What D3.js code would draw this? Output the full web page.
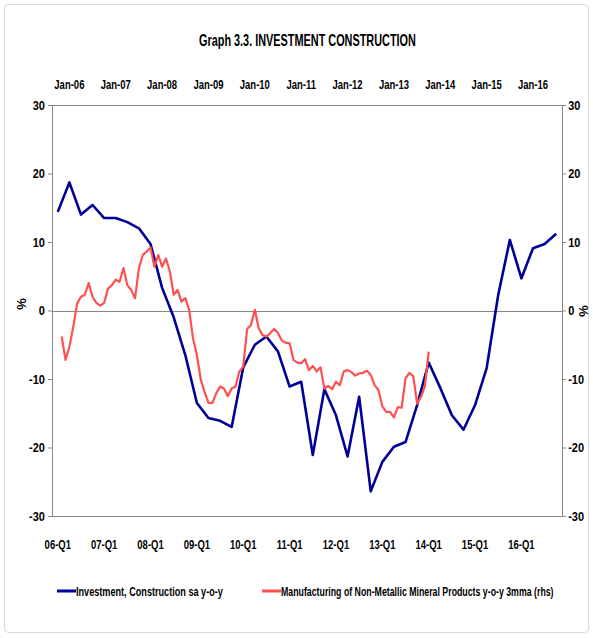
<!DOCTYPE html>
<html>
<head>
<meta charset="utf-8">
<script src="https://cdn.jsdelivr.net/npm/d3@7"></script>
<style>
body { margin: 0; background: #fff; }
text { font-family: "Liberation Sans", Arial, sans-serif; font-weight: bold; }
</style>
</head>
<body>
<div id="chart"></div>
<script>
// quarterly categories (bottom axis)
var quarters = ["06-Q1","06-Q2","06-Q3","06-Q4","07-Q1","07-Q2","07-Q3","07-Q4",
	"08-Q1","08-Q2","08-Q3","08-Q4","09-Q1","09-Q2","09-Q3","09-Q4",
	"10-Q1","10-Q2","10-Q3","10-Q4","11-Q1","11-Q2","11-Q3","11-Q4",
	"12-Q1","12-Q2","12-Q3","12-Q4","13-Q1","13-Q2","13-Q3","13-Q4",
	"14-Q1","14-Q2","14-Q3","14-Q4","15-Q1","15-Q2","15-Q3","15-Q4",
	"16-Q1","16-Q2","16-Q3","16-Q4"];
var quarterTicks = ["06-Q1","07-Q1","08-Q1","09-Q1","10-Q1","11-Q1","12-Q1","13-Q1","14-Q1","15-Q1","16-Q1"];

// Investment, Construction sa y-o-y (quarterly, lhs)
var investment = [14.4, 18.7, 14.0, 15.4, 13.5, 13.5, 12.9, 12.0,
	9.7, 3.3, -1.0, -6.5, -13.5, -15.7, -16.1, -17.0,
	-8.3, -5.0, -3.8, -6.0, -11.1, -10.4, -21.1, -11.5,
	-15.3, -21.3, -12.6, -26.4, -22.1, -19.9, -19.2, -13.8,
	-7.6, -11.3, -15.3, -17.4, -13.8, -8.4, 2.3, 10.3,
	4.7, 9.1, 9.7, 11.2];

// monthly categories (top axis): Sep-05 .. Aug-16
var monthStart = new Date(2005, 8, 1);
var monthEnd = new Date(2016, 8, 1);
var monthTicks = ["Jan-06","Jan-07","Jan-08","Jan-09","Jan-10","Jan-11","Jan-12","Jan-13","Jan-14","Jan-15","Jan-16"];

// Manufacturing of Non-Metallic Mineral Products y-o-y 3mma (monthly, rhs), Nov-05 .. Oct-13
var mineralStart = new Date(2005, 10, 1);
var mineral = [-3.8, -7.2, -5.3, -2.4, 1.0, 2.0, 2.3, 4.0, 2.0, 1.1, 0.7, 1.1,
	3.2, 3.7, 4.5, 4.2, 6.2, 3.7, 3.0, 1.8, 6.2, 8.1, 8.6, 9.2,
	6.4, 8.1, 6.4, 7.6, 5.7, 2.3, 3.0, 1.3, 1.8, 0.1, -4.1, -6.5,
	-10.1, -11.9, -13.5, -13.5, -12.1, -11.1, -11.4, -12.5, -11.4, -11.1, -8.9, -8.2,
	-2.7, -2.1, 0.1, -2.6, -3.6, -3.8, -3.3, -2.7, -3.3, -4.4, -4.7, -4.8,
	-7.2, -7.6, -7.7, -7.1, -8.7, -8.1, -8.9, -8.3, -11.4, -11.0, -11.5, -10.4,
	-10.9, -8.9, -8.7, -9.0, -9.5, -9.2, -9.1, -8.8, -9.4, -10.9, -11.6, -14.0,
	-14.8, -14.8, -15.6, -14.1, -14.2, -9.9, -9.1, -9.6, -13.6, -12.6, -11.1, -6.0];

var yTicks = [-30, -20, -10, 0, 10, 20, 30];

var seriesNames = ["Investment, Construction sa y-o-y",
	"Manufacturing of Non-Metallic Mineral Products y-o-y 3mma (rhs)"];

// squeeze a text horizontally so it spans exactly len pixels from x
function fitText(sel, x, y, len) {
	var natural = sel.node().getComputedTextLength();
	sel.attr("x", 0).attr("y", 0)
		.attr("transform", "translate(" + x + "," + y + ") scale(" + (len / natural) + ",1)");
}

function drawChart() {
	try {
		var width = 593, height = 638;
		var left = 52, right = 562, top = 105, bottom = 516;
		var axisColor = "#868686";
		var blue = "#000099", red = "#ff5050";

		var svg = d3.select("#chart").append("svg")
			.attr("width", width).attr("height", height);

		svg.append("rect").attr("x", 4.5).attr("y", 4.5)
			.attr("width", 584).attr("height", 628).attr("rx", 4)
			.attr("fill", "#fff").attr("stroke", "#d9d9d9");

		var title = svg.append("text").attr("font-size", 17)
			.text("Graph 3.3. INVESTMENT CONSTRUCTION");
		fitText(title, 199, 46, 217);

		var months = d3.timeMonth.range(monthStart, monthEnd);
		var fmtMonth = d3.timeFormat("%b-%y");

		var xQ = d3.scaleBand().domain(quarters).range([left, right]);
		var xM = d3.scaleBand().domain(months.map(fmtMonth)).range([left, right]);
		var y = d3.scaleLinear().domain([-30, 30]).range([bottom, top]);
		var y2 = d3.scaleLinear().domain([-30, 30]).range([bottom, top]);

		// top axis line (box edge)
		svg.append("line").attr("x1", left).attr("x2", right)
			.attr("y1", top + 0.5).attr("y2", top + 0.5)
			.attr("stroke", axisColor);

		// zero line
		svg.append("line").attr("x1", left).attr("x2", right)
			.attr("y1", Math.round(y(0)) + 0.5).attr("y2", Math.round(y(0)) + 0.5)
			.attr("stroke", axisColor);

		var gLeft = svg.append("g").attr("transform", "translate(" + left + ",0)")
			.call(d3.axisLeft(y).tickValues(yTicks).tickSize(4).tickSizeOuter(0)
				.tickFormat(function(d) { return String(d); }));
		var gRight = svg.append("g").attr("transform", "translate(" + right + ",0)")
			.call(d3.axisRight(y2).tickValues(yTicks).tickSize(4).tickSizeOuter(0)
				.tickFormat(function(d) { return String(d); }));
		var gBottom = svg.append("g").attr("transform", "translate(0," + bottom + ")")
			.call(d3.axisBottom(xQ).tickValues(quarterTicks).tickSize(0).tickSizeOuter(0).tickPadding(24));
		var gTop = svg.append("g").attr("transform", "translate(0," + (top - 16) + ")")
			.call(d3.axisTop(xM).tickValues(monthTicks).tickSize(0).tickSizeOuter(0).tickPadding(0));
		gTop.select(".domain").remove();

		[gLeft, gRight, gBottom].forEach(function(g) {
			g.select(".domain").attr("stroke", axisColor);
			g.selectAll(".tick line").attr("stroke", axisColor);
		});
		[gLeft, gRight, gBottom, gTop].forEach(function(g) {
			g.selectAll("text").attr("fill", "#000").attr("font-size", 12.5)
				.attr("font-family", null);
		});
		// narrow the labels to match the condensed face of the original
		gBottom.selectAll("text").attr("transform", "scale(0.76,1)");
		gTop.selectAll("text").attr("transform", "scale(0.76,1)");
		gLeft.selectAll("text").attr("x", -8).attr("transform", "scale(0.88,1)");
		gRight.selectAll("text").attr("x", 7).attr("transform", "scale(0.88,1)");

		svg.append("text").attr("transform", "translate(26,304) rotate(-90)")
			.attr("text-anchor", "middle").attr("font-size", 13).text("%");
		svg.append("text").attr("transform", "translate(579,311) rotate(90)")
			.attr("text-anchor", "middle").attr("font-size", 13).text("%");

		// series lines
		var invLine = d3.line()
			.x(function(d, i) { return xQ(quarters[i]) + xQ.bandwidth() / 2; })
			.y(function(d) { return y(d); });
		svg.append("path").datum(investment).attr("d", invLine)
			.attr("fill", "none").attr("stroke", blue).attr("stroke-width", 2.6)
			.attr("stroke-linejoin", "round");

		var mineralMonths = d3.timeMonth.range(mineralStart, monthEnd).slice(0, mineral.length).map(fmtMonth);
		var minLine = d3.line()
			.x(function(d, i) { return xM(mineralMonths[i]) + xM.bandwidth() / 2; })
			.y(function(d) { return y2(d); });
		svg.append("path").datum(mineral).attr("d", minLine)
			.attr("fill", "none").attr("stroke", red).attr("stroke-width", 2.2)
			.attr("stroke-linejoin", "round");

		// legend
		var legendY = 591;
		var legendX = [57, 262];
		var legendLen = [147, 273];
		var colors = [blue, red];
		for (var i = 0; i < 2; i++) {
			svg.append("line").attr("x1", legendX[i]).attr("x2", legendX[i] + 19)
				.attr("y1", legendY).attr("y2", legendY)
				.attr("stroke", colors[i]).attr("stroke-width", 3);
			var t = svg.append("text").attr("font-size", 13).text(seriesNames[i]);
			fitText(t, legendX[i] + 19, legendY + 5, legendLen[i]);
		}
	} catch (error) {
		throw "Function :: drawChart Error: " + error;
	}
}

drawChart();
</script>
</body>
</html>
